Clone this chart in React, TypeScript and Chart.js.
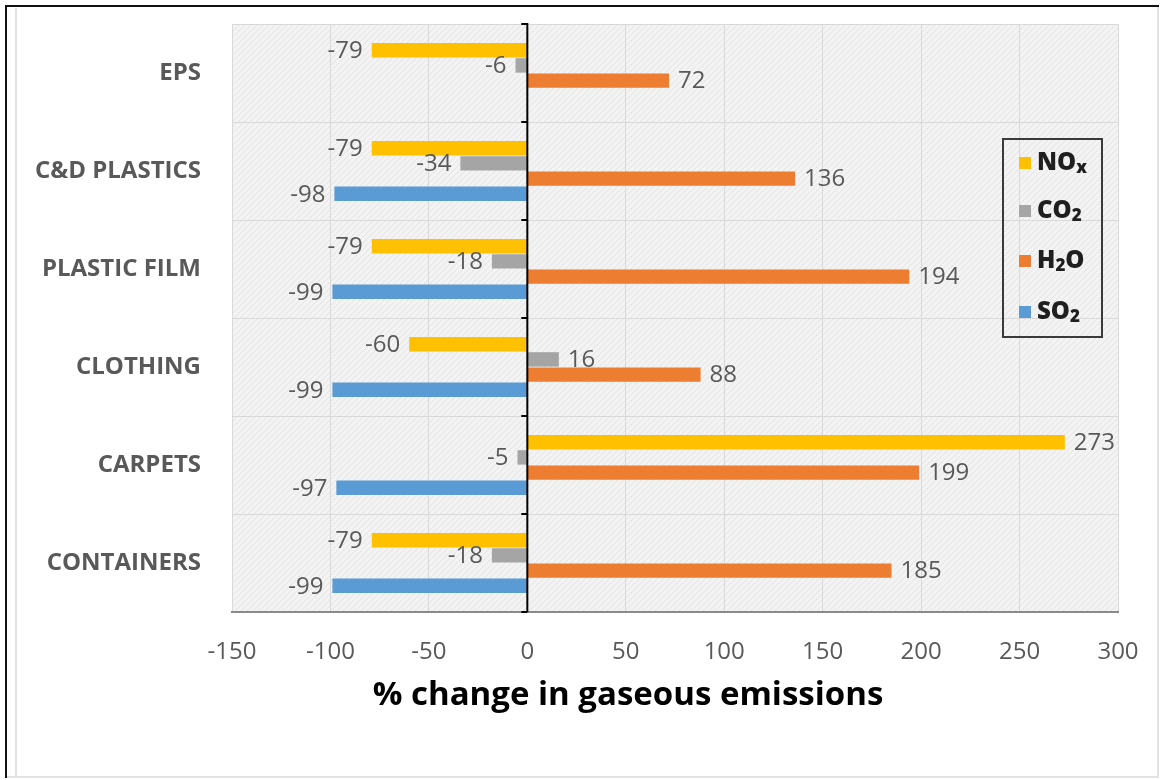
import React, { useEffect, useRef } from 'react';
import { Chart, registerables } from 'chart.js';

Chart.register(...registerables);

// Product categories, top to bottom
const categories = ['EPS', 'C&D PLASTICS', 'PLASTIC FILM', 'CLOTHING', 'CARPETS', 'CONTAINERS'];

// % change per gas for each category
const noxValues = [-79, -79, -79, -60, 273, -79];
const co2Values = [-6, -34, -18, 16, -5, -18];
const h2oValues = [72, 136, 194, 88, 199, 185];
const so2Values: (number | null)[] = [null, -98, -99, -99, -97, -99];

const seriesNames = ['NOx', 'CO2', 'H2O', 'SO2'];
const seriesColors = ['#FFC000', '#A5A5A5', '#ED7D31', '#5B9BD5'];

// Legend text split into normal / subscript pieces
const legendParts: [string, boolean][][] = [
  [['NO', false], ['x', true]],
  [['CO', false], ['2', true]],
  [['H', false], ['2', true], ['O', false]],
  [['SO', false], ['2', true]],
];

// Value axis range
const xMin = -150;
const xMax = 300;
const xStep = 50;

const axisTitle = '% change in gaseous emissions';

const FONT = '"Open Sans", "DejaVu Sans", sans-serif';

function makeHatch(ctx: CanvasRenderingContext2D): CanvasPattern | string {
  const c = document.createElement('canvas');
  c.width = 6;
  c.height = 6;
  const p = c.getContext('2d');
  if (!p) return '#f1f1f1';
  p.fillStyle = '#f3f3f3';
  p.fillRect(0, 0, 6, 6);
  p.strokeStyle = '#e3e3e3';
  p.lineWidth = 1;
  p.beginPath();
  p.moveTo(0, 6);
  p.lineTo(6, 0);
  p.moveTo(-3, 3);
  p.lineTo(3, -3);
  p.moveTo(3, 9);
  p.lineTo(9, 3);
  p.stroke();
  return ctx.createPattern(c, 'repeat') || '#f1f1f1';
}

const backgroundPlugin = {
  id: 'pageBackground',
  beforeDraw(chart: any) {
    const { ctx, width, height, chartArea } = chart;
    ctx.save();
    ctx.fillStyle = '#ffffff';
    ctx.fillRect(0, 0, width, height);
    // outer frame
    ctx.strokeStyle = '#e2e2e2';
    ctx.lineWidth = 2;
    ctx.beginPath();
    ctx.moveTo(16, 8);
    ctx.lineTo(16, 776);
    ctx.moveTo(1158, 6);
    ctx.lineTo(1158, 777);
    ctx.moveTo(6, 777);
    ctx.lineTo(1159, 777);
    ctx.stroke();
    ctx.strokeStyle = '#111111';
    ctx.beginPath();
    ctx.moveTo(5, 6);
    ctx.lineTo(1159, 6);
    ctx.moveTo(6, 5);
    ctx.lineTo(6, 778);
    ctx.stroke();
    // hatched plot area
    ctx.fillStyle = makeHatch(ctx);
    ctx.fillRect(chartArea.left, chartArea.top, chartArea.right - chartArea.left, chartArea.bottom - chartArea.top);
    ctx.restore();
  },
};

const zeroLineAndLabels = {
  id: 'zeroLineAndLabels',
  afterDatasetsDraw(chart: any) {
    const { ctx, chartArea, scales } = chart;
    const x0 = scales.x.getPixelForValue(0);
    ctx.save();
    // vertical zero axis with category tick marks
    ctx.strokeStyle = '#000000';
    ctx.lineWidth = 2;
    ctx.beginPath();
    ctx.moveTo(x0, chartArea.top - 1);
    ctx.lineTo(x0, chartArea.bottom);
    const n = categories.length;
    const step = (chartArea.bottom - chartArea.top) / n;
    for (let i = 0; i <= n; i++) {
      const y = chartArea.top + i * step;
      ctx.moveTo(x0 - 6, y);
      ctx.lineTo(x0, y);
    }
    ctx.stroke();

    // value labels at bar ends
    ctx.font = `24px ${FONT}`;
    ctx.fillStyle = '#595959';
    ctx.textBaseline = 'middle';
    chart.data.datasets.forEach((ds: any, di: number) => {
      const meta = chart.getDatasetMeta(di);
      meta.data.forEach((bar: any, i: number) => {
        const v = ds.data[i];
        if (v === null || v === undefined) return;
        if (v >= 0) {
          ctx.textAlign = 'left';
          ctx.fillText(String(v), bar.x + 9, bar.y + 1);
        } else {
          ctx.textAlign = 'right';
          ctx.fillText(String(v), bar.x - 9, bar.y + 1);
        }
      });
    });
    ctx.restore();
  },
  afterDraw(chart: any) {
    const { ctx } = chart;
    ctx.save();
    // legend box
    const bx = 1003;
    const by = 139;
    const bw = 99;
    const bh = 198;
    ctx.strokeStyle = '#3a3a3a';
    ctx.lineWidth = 2;
    ctx.strokeRect(bx, by, bw, bh);
    const rowY = [163, 211, 261, 312];
    legendParts.forEach((parts, i) => {
      const y = rowY[i];
      ctx.fillStyle = seriesColors[i];
      ctx.fillRect(1019, y - 6, 12, 12);
      let x = 1037;
      ctx.textAlign = 'left';
      ctx.textBaseline = 'middle';
      ctx.fillStyle = '#1f1f1f';
      parts.forEach(([t, sub]) => {
        ctx.font = sub ? `800 17px ${FONT}` : `800 24px ${FONT}`;
        ctx.fillText(t, x, sub ? y + 5 : y);
        x += ctx.measureText(t).width;
      });
    });
    // axis title
    ctx.font = `bold 33px ${FONT}`;
    ctx.fillStyle = '#000000';
    ctx.textAlign = 'center';
    ctx.textBaseline = 'middle';
    ctx.fillText(axisTitle, 628, 696);
    ctx.restore();
  },
};

export default function App() {
  const canvasRef = useRef<HTMLCanvasElement | null>(null);

  useEffect(() => {
    const canvas = canvasRef.current;
    if (!canvas) return;
    const seriesData = [noxValues, co2Values, h2oValues, so2Values];
    const chart = new Chart(canvas, {
      type: 'bar',
      data: {
        labels: categories,
        datasets: seriesData.map((d, i) => ({
          label: seriesNames[i],
          data: d as any,
          backgroundColor: seriesColors[i],
          borderWidth: 0,
          categoryPercentage: 0.62,
          barPercentage: 0.95,
        })),
      },
      options: {
        indexAxis: 'y',
        responsive: false,
        animation: false,
        layout: { padding: { top: 24, right: 44, left: 0, bottom: 0 } },
        plugins: {
          legend: { display: false },
          tooltip: { enabled: false },
        },
        scales: {
          x: {
            min: xMin,
            max: xMax,
            afterFit: (s: any) => {
              s.height = 168;
              s.paddingLeft = 0;
              s.paddingRight = 0;
            },
            ticks: {
              stepSize: xStep,
              color: '#595959',
              font: { family: FONT, size: 24 },
              padding: 26,
            },
            grid: { color: '#d9d9d9', lineWidth: 1, drawTicks: false },
            border: { display: true, color: '#8a8a8a', width: 2 },
          },
          y: {
            afterFit: (s: any) => {
              s.width = 232;
              s.paddingTop = 0;
              s.paddingBottom = 0;
            },
            ticks: {
              color: '#595959',
              font: { family: FONT, size: 24, weight: 'bold' },
              padding: 31,
            },
            grid: { color: '#d9d9d9', lineWidth: 1, drawTicks: false, offset: true },
            border: { display: false },
          },
        },
      },
      plugins: [backgroundPlugin, zeroLineAndLabels],
    });
    return () => chart.destroy();
  }, []);

  return (
    <div style={{ position: 'fixed', left: 0, top: 0, width: 1162, height: 780 }}>
      <canvas ref={canvasRef} width={1162} height={780} style={{ display: 'block' }} />
    </div>
  );
}
